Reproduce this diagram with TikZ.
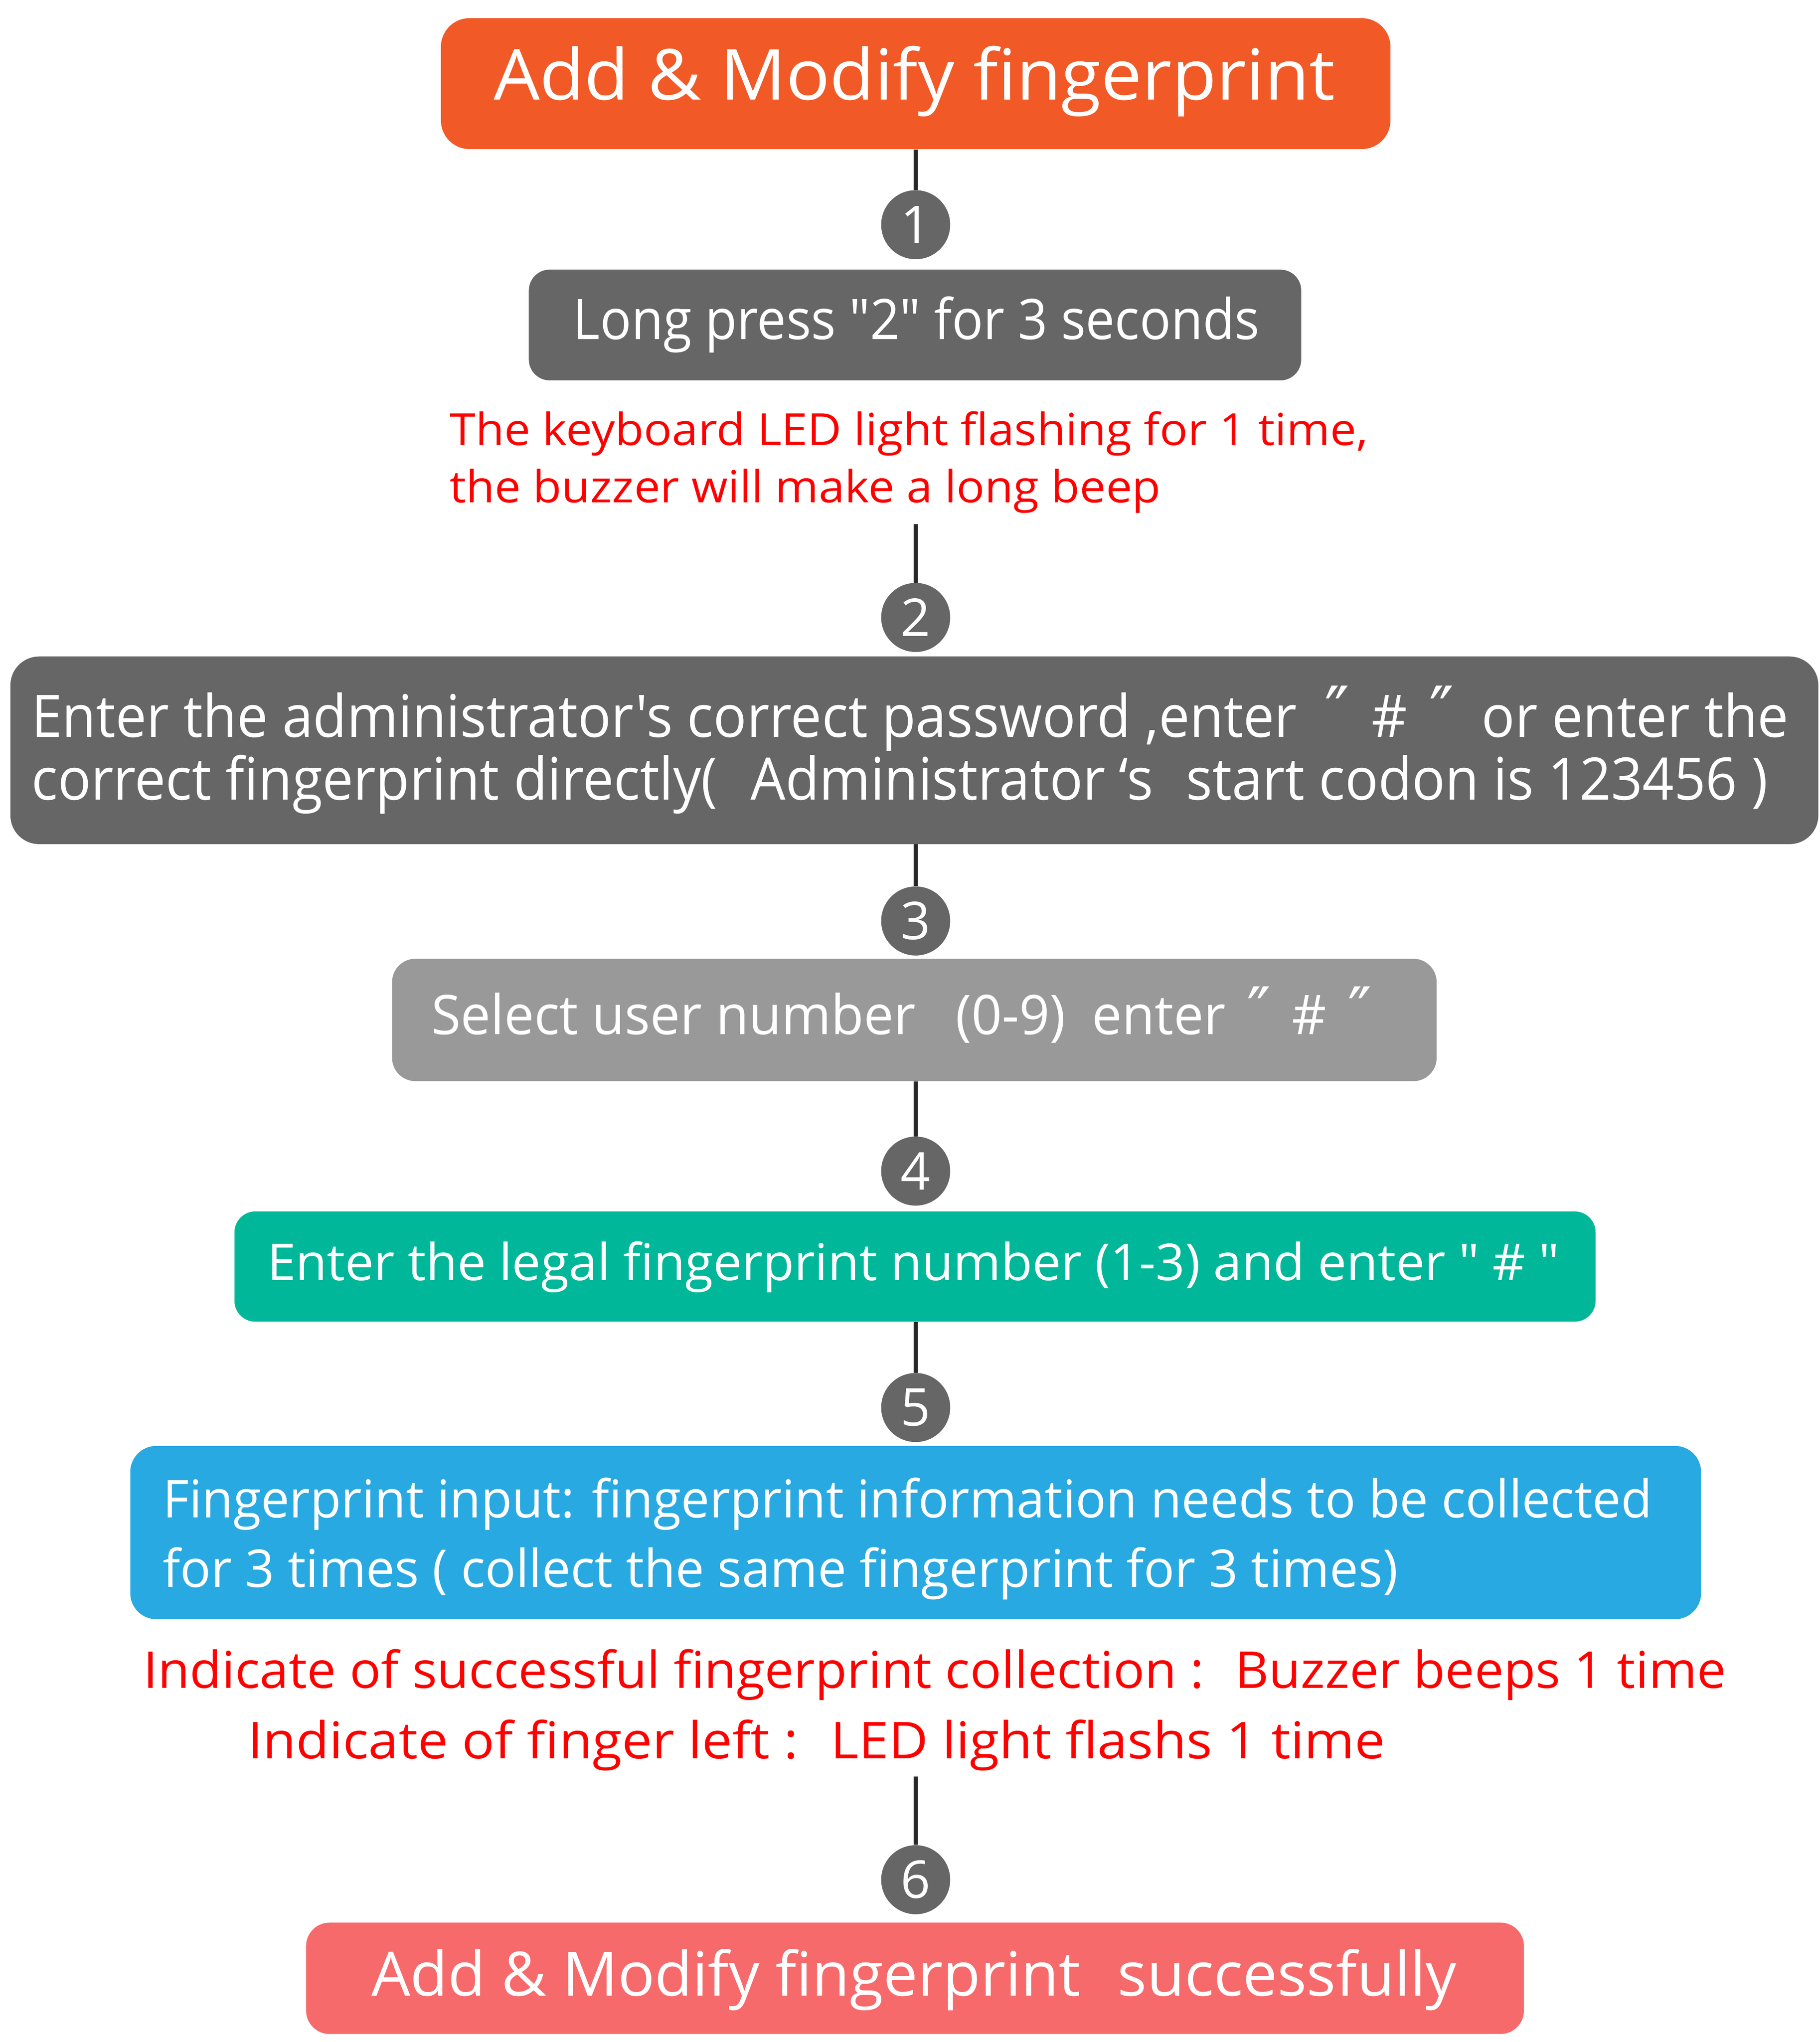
\documentclass[tikz,border=0pt]{standalone}
\usepackage{fontspec}
\newfontfamily\osfont{Open Sans}
\newfontfamily\dvfont{DejaVu Sans}
\usepackage{graphicx}
\newcommand{\fitw}[2]{\resizebox{#1pt}{\height}{#2}}
\newcommand{\dq}{{\dvfont\fontsize{1.2em}{1.2em}\selectfont ″}}
\definecolor{corange}{HTML}{F15A27}
\definecolor{cdark}{HTML}{666666}
\definecolor{clight}{HTML}{999999}
\definecolor{cteal}{HTML}{00B899}
\definecolor{cblue}{HTML}{29A9E1}
\definecolor{csalmon}{HTML}{F76A6B}
\definecolor{cred}{HTML}{FF0000}
\tikzset{
  stepbox/.style={draw=none, rounded corners=18pt, inner sep=0pt},
  numcircle/.style={circle, fill=cdark, minimum size=53pt, inner sep=0pt, text=white, font=\osfont\fontsize{40}{44}\selectfont},
  wtext/.style={inner sep=0pt, text=white},
  rtext/.style={inner sep=0pt, text=cred},
  conn/.style={line width=3.2pt, draw=black!85}
}
\begin{document}
\osfont
\begin{tikzpicture}[x=1pt,y=-1pt]
\useasboundingbox (0,0) rectangle (1397,1567.6);
% boxes
\node[stepbox, fill=corange, minimum width=729pt, minimum height=100.5pt, rounded corners=22pt] (title) at (703,64.2) {};
\node[stepbox, fill=cdark, minimum width=593pt, minimum height=85pt, rounded corners=16pt] (b2) at (702.5,249.5) {};
\node[stepbox, fill=cdark, minimum width=1388pt, minimum height=144pt, rounded corners=22pt] (b3) at (702,576) {};
\node[stepbox, fill=clight, minimum width=802pt, minimum height=94pt, rounded corners=18pt] (b4) at (702,783) {};
\node[stepbox, fill=cteal, minimum width=1045pt, minimum height=84.6pt, rounded corners=16pt] (b5) at (702.5,972.3) {};
\node[stepbox, fill=cblue, minimum width=1206pt, minimum height=133pt, rounded corners=20pt] (b6) at (703,1176.5) {};
\node[stepbox, fill=csalmon, minimum width=935pt, minimum height=85.5pt, rounded corners=18pt] (b7) at (702.5,1518.7) {};
% circles
\node[numcircle] (c1) at (703,172.5) {1};
\node[numcircle] (c2) at (703,474) {2};
\node[numcircle] (c3) at (703,707) {3};
\node[numcircle] (c4) at (703,899) {4};
\node[numcircle] (c5) at (703,1080.5) {5};
\node[numcircle] (c6) at (703,1443) {6};
% free ends
\coordinate (n1) at (703,402.5);
\coordinate (n2) at (703,1363.7);
% connectors
\draw[conn] (title.south -| c1) -- (c1.north);
\draw[conn] (n1) -- (c2.north);
\draw[conn] (b3.south -| c3) -- (c3.north);
\draw[conn] (b4.south -| c4) -- (c4.north);
\draw[conn] (b5.south -| c5) -- (c5.north);
\draw[conn] (n2) -- (c6.north);
% texts
\node[wtext, anchor=base, font=\fontsize{54}{60}\selectfont] (t1) at (702,76.6) {\fitw{646}{Add \& Modify fingerprint}};
\node[wtext, anchor=base, font=\fontsize{43}{48}\selectfont] (t2) at (703.5,260.4) {\fitw{527}{Long press "2" for 3 seconds}};
\node[rtext, anchor=base west, font=\fontsize{34}{40}\selectfont] (r1a) at (345,341.8) {\fitw{705}{The keyboard LED light flashing for 1 time,}};
\node[rtext, anchor=base west, font=\fontsize{34}{40}\selectfont] (r1b) at (345,385.9) {\fitw{546}{the buzzer will make a long beep}};
\node[wtext, anchor=base west, font=\fontsize{45}{50}\selectfont] (t3a) at (24,566) {\fitw{1349}{Enter the administrator's correct password ,enter\hspace{0.5em}\dq\hspace{0.4em}\#\hspace{0.4em}\dq\hspace{0.5em}or enter the}};
\node[wtext, anchor=base west, font=\fontsize{45}{50}\selectfont] (t3b) at (24,614) {\fitw{1333}{correct fingerprint directly(\hspace{0.6em}Administrator\hspace{0.25em}‘s\hspace{0.6em}start codon is 123456 )}};
\node[wtext, anchor=base west, font=\fontsize{42}{48}\selectfont] (t4) at (331,794) {\fitw{722}{Select user number\hspace{0.75em}(0-9)\hspace{0.5em}enter\hspace{0.4em}\dq\hspace{0.4em}\#\hspace{0.4em}\dq}};
\node[wtext, anchor=base west, font=\fontsize{39}{44}\selectfont] (t5) at (205,983) {\fitw{992}{Enter the legal fingerprint number (1-3) and enter " \# "}};
\node[wtext, anchor=base west, font=\fontsize{40}{46}\selectfont] (t6a) at (125,1165) {\fitw{1143}{Fingerprint input: fingerprint information needs to be collected}};
\node[wtext, anchor=base west, font=\fontsize{40}{46}\selectfont] (t6b) at (125,1218.5) {\fitw{948}{for 3 times ( collect the same fingerprint for 3 times)}};
\node[rtext, anchor=base west, font=\fontsize{39}{44}\selectfont] (r2a) at (110,1296) {\fitw{1215}{Indicate of successful fingerprint collection :\hspace{0.6em}Buzzer beeps 1 time}};
\node[rtext, anchor=base west, font=\fontsize{39}{44}\selectfont] (r2b) at (190,1350) {\fitw{873}{Indicate of finger left :\hspace{0.6em}LED light flashs 1 time}};
\node[wtext, anchor=base west, font=\fontsize{47}{52}\selectfont] (t7) at (285,1532) {\fitw{833}{Add \& Modify fingerprint\hspace{0.6em}successfully}};
\end{tikzpicture}
\end{document}
